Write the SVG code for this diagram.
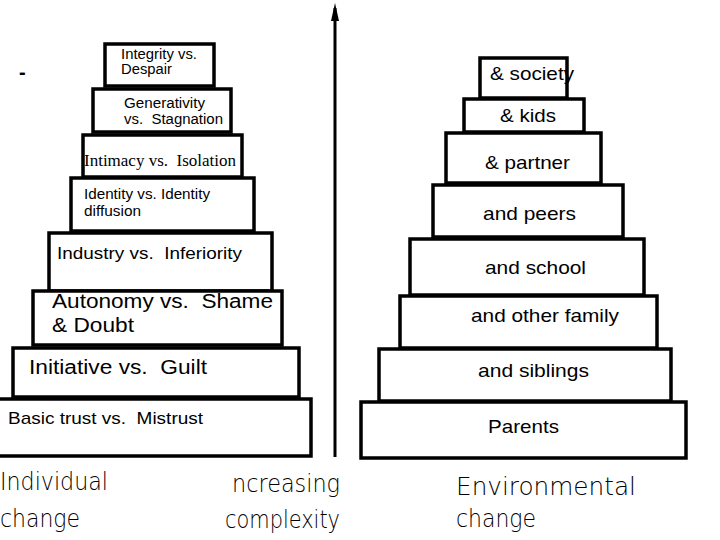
<svg xmlns="http://www.w3.org/2000/svg" width="720" height="540" viewBox="0 0 720 540">
<style>
text{white-space:pre}
.box{fill:#fff;stroke:#000;stroke-width:3.5}
.t{font-family:"Liberation Sans",Arial,sans-serif;fill:#000}
.s{font-family:"Liberation Serif","Times New Roman",serif;fill:#000}
.h{font-family:"DejaVu Sans",sans-serif;font-weight:200;fill:#000;font-size:24px}
</style>
<rect width="720" height="540" fill="#fff"/>
<g id="connectors">
<line x1="335" y1="457" x2="335" y2="8" stroke="#000" stroke-width="3"/>
<path d="M335 3 L339 21 L331 21 Z" fill="#000"/>
</g>
<text class="t" x="19" y="79" font-size="20" font-weight="bold">-</text>
<g id="integrity"><rect class="box" x="105" y="44" width="109" height="42"/><text class="t" font-size="14"><tspan x="121" y="59" textLength="76" lengthAdjust="spacingAndGlyphs">Integrity vs.</tspan><tspan x="121" y="74" textLength="51" lengthAdjust="spacingAndGlyphs">Despair</tspan></text></g>
<g id="generativity"><rect class="box" x="93" y="89" width="138" height="43"/><text class="t" font-size="14"><tspan x="124" y="108" textLength="81" lengthAdjust="spacingAndGlyphs">Generativity</tspan><tspan x="124" y="124" textLength="99" lengthAdjust="spacingAndGlyphs">vs.  Stagnation</tspan></text></g>
<g id="intimacy"><rect class="box" x="83" y="135" width="159" height="42"/><text class="s" x="84" y="166" font-size="16" textLength="152" lengthAdjust="spacingAndGlyphs">Intimacy vs.  Isolation</text></g>
<g id="identity"><rect class="box" x="71" y="178" width="183" height="53"/><text class="t" font-size="14"><tspan x="84" y="199" textLength="126" lengthAdjust="spacingAndGlyphs">Identity vs. Identity</tspan><tspan x="84" y="216" textLength="57" lengthAdjust="spacingAndGlyphs">diffusion</tspan></text></g>
<g id="industry"><rect class="box" x="49" y="233" width="223" height="58"/><text class="t" x="57" y="259" font-size="17" textLength="185" lengthAdjust="spacingAndGlyphs">Industry vs.  Inferiority</text></g>
<g id="autonomy"><rect class="box" x="33" y="291" width="249" height="54"/><text class="t" font-size="20"><tspan x="52" y="308" textLength="221" lengthAdjust="spacingAndGlyphs">Autonomy vs.  Shame</tspan><tspan x="52" y="332" textLength="82" lengthAdjust="spacingAndGlyphs">&amp; Doubt</tspan></text></g>
<g id="initiative"><rect class="box" x="13" y="348" width="286" height="49"/><text class="t" x="29" y="374" font-size="20" textLength="178" lengthAdjust="spacingAndGlyphs">Initiative vs.  Guilt</text></g>
<g id="basic"><rect class="box" x="-2" y="399" width="313" height="57"/><text class="t" x="8" y="424" font-size="17" textLength="195" lengthAdjust="spacingAndGlyphs">Basic trust vs.  Mistrust</text></g>

<g id="society"><rect class="box" x="480" y="58" width="87" height="40"/><text class="t" x="490" y="80" font-size="19" textLength="84" lengthAdjust="spacingAndGlyphs">&amp; society</text></g>
<g id="kids"><rect class="box" x="464" y="99" width="120" height="33"/><text class="t" x="500" y="122" font-size="19" textLength="56" lengthAdjust="spacingAndGlyphs">&amp; kids</text></g>
<g id="partner"><rect class="box" x="446" y="133" width="155" height="50"/><text class="t" x="485" y="169" font-size="19" textLength="85" lengthAdjust="spacingAndGlyphs">&amp; partner</text></g>
<g id="peers"><rect class="box" x="433" y="185" width="190" height="52"/><text class="t" x="483" y="220" font-size="19" textLength="93" lengthAdjust="spacingAndGlyphs">and peers</text></g>
<g id="school"><rect class="box" x="410" y="239" width="234" height="56"/><text class="t" x="485" y="274" font-size="19" textLength="101" lengthAdjust="spacingAndGlyphs">and school</text></g>
<g id="otherfamily"><rect class="box" x="400" y="296" width="257" height="52"/><text class="t" x="471" y="322" font-size="19" textLength="148" lengthAdjust="spacingAndGlyphs">and other family</text></g>
<g id="siblings"><rect class="box" x="379" y="349" width="292" height="52"/><text class="t" x="478" y="377" font-size="19" textLength="111" lengthAdjust="spacingAndGlyphs">and siblings</text></g>
<g id="parents"><rect class="box" x="361" y="402" width="325" height="56"/><text class="t" x="488" y="433" font-size="19" textLength="71" lengthAdjust="spacingAndGlyphs">Parents</text></g>

<g id="labels">
<text class="h"><tspan x="0" y="490" textLength="108" lengthAdjust="spacingAndGlyphs">Individual</tspan><tspan x="0" y="527" textLength="80" lengthAdjust="spacingAndGlyphs">change</tspan></text>
<text class="h"><tspan x="232" y="492" textLength="108" lengthAdjust="spacingAndGlyphs">ncreasing</tspan><tspan x="225" y="528" textLength="115" lengthAdjust="spacingAndGlyphs">complexity</tspan></text>
<text class="h"><tspan x="456" y="495" textLength="180" lengthAdjust="spacingAndGlyphs">Environmental</tspan><tspan x="456" y="527" textLength="80" lengthAdjust="spacingAndGlyphs">change</tspan></text>
</g>
</svg>
